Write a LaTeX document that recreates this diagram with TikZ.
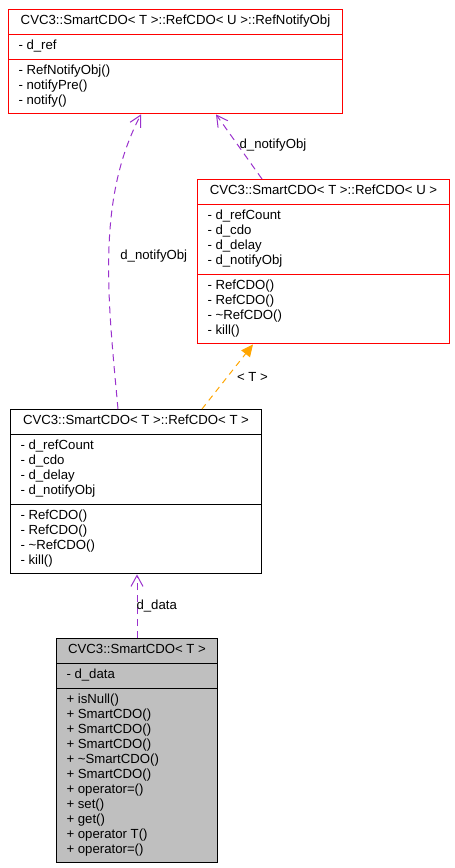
\documentclass[tikz,border=0pt]{standalone}
\usepackage{fontspec}
\setmainfont{Liberation Sans}
\usepackage{xcolor}
\usetikzlibrary{shapes.multipart, arrows.meta}
\definecolor{depcolor}{HTML}{9A32CD}
\definecolor{inhcolor}{HTML}{FFA500}
\definecolor{boxgray}{HTML}{BFBFBF}

\begin{document}
\begin{tikzpicture}[x=1pt, y=-1pt,
            every node/.style={font=\fontsize{13.2}{15}\selectfont},
            classbox/.style={draw, line width=1pt, rectangle split, rectangle split parts=3, rectangle split part align={center, left, left}, align=left, anchor=north west, inner xsep=10pt, inner ysep=4.4pt, fill=white},
            dep/.style={draw=depcolor, line width=1pt, dash pattern=on 7pt off 5pt, -{Straight Barb[length=11pt, width=12pt]}},
            inh/.style={draw=inhcolor, line width=1pt, dash pattern=on 6pt off 5pt, -{Triangle[length=12pt, width=11pt]}},
            lbl/.style={anchor=west, inner sep=0pt}]

            \useasboundingbox (0,0) rectangle (455,868);

            % Nodes
            \node (notify) [classbox, draw=red, minimum width=334pt] at (8,9) {\strut CVC3::SmartCDO< T >::RefCDO< U >::RefNotifyObj
                \nodepart{two} \strut- d\_ref\strut
                \nodepart{three} \strut- RefNotifyObj()\\ - notifyPre()\\ - notify()\strut};
            \node (refU) [classbox, draw=red, minimum width=252pt] at (197,179) {\strut CVC3::SmartCDO< T >::RefCDO< U >
                \nodepart{two} \strut- d\_refCount\\ - d\_cdo\\ - d\_delay\\ - d\_notifyObj\strut
                \nodepart{three} \strut- RefCDO()\\ - RefCDO()\\ - \textasciitilde RefCDO()\\ - kill()\strut};
            \node (refT) [classbox, minimum width=251pt] at (10,409) {\strut CVC3::SmartCDO< T >::RefCDO< T >
                \nodepart{two} \strut- d\_refCount\\ - d\_cdo\\ - d\_delay\\ - d\_notifyObj\strut
                \nodepart{three} \strut- RefCDO()\\ - RefCDO()\\ - \textasciitilde RefCDO()\\ - kill()\strut};
            \node (smart) [classbox, fill=boxgray, minimum width=161pt] at (56,638) {\strut CVC3::SmartCDO< T >
                \nodepart{two} \strut- d\_data\strut
                \nodepart{three} \strut+ isNull()\\ + SmartCDO()\\ + SmartCDO()\\ + SmartCDO()\\ + \textasciitilde SmartCDO()\\ + SmartCDO()\\ + operator=()\\ + set()\\ + get()\\ + operator T()\\ + operator=()\strut};

            % Arrows
            % SmartCDO -> RefCDO<T>
            \draw [dep] (smart.north) -- (smart.north |- refT.south) node[lbl, pos=0.5, xshift=-1pt] {d\_data};

            % RefCDO<T> -> RefCDO<U>
            \draw [inh] ([xshift=192pt]refT.north west) -- ([xshift=56pt]refU.south west) node[lbl, pos=0.5, xshift=9pt] {< T >};

            % RefCDO<T> -> RefNotifyObj
            \draw [dep] ([xshift=108pt]refT.north west) .. controls (108,300) and (96,200) .. ([xshift=133pt]notify.south west) node[lbl, pos=0.5, xshift=11pt, yshift=-3pt] {d\_notifyObj};

            % RefCDO<U> -> RefNotifyObj
            \draw [dep] ([xshift=65pt]refU.north west) -- ([xshift=208pt]notify.south west) node[lbl, pos=0.52, xshift=1pt] {d\_notifyObj};
        \end{tikzpicture}
\end{document}
